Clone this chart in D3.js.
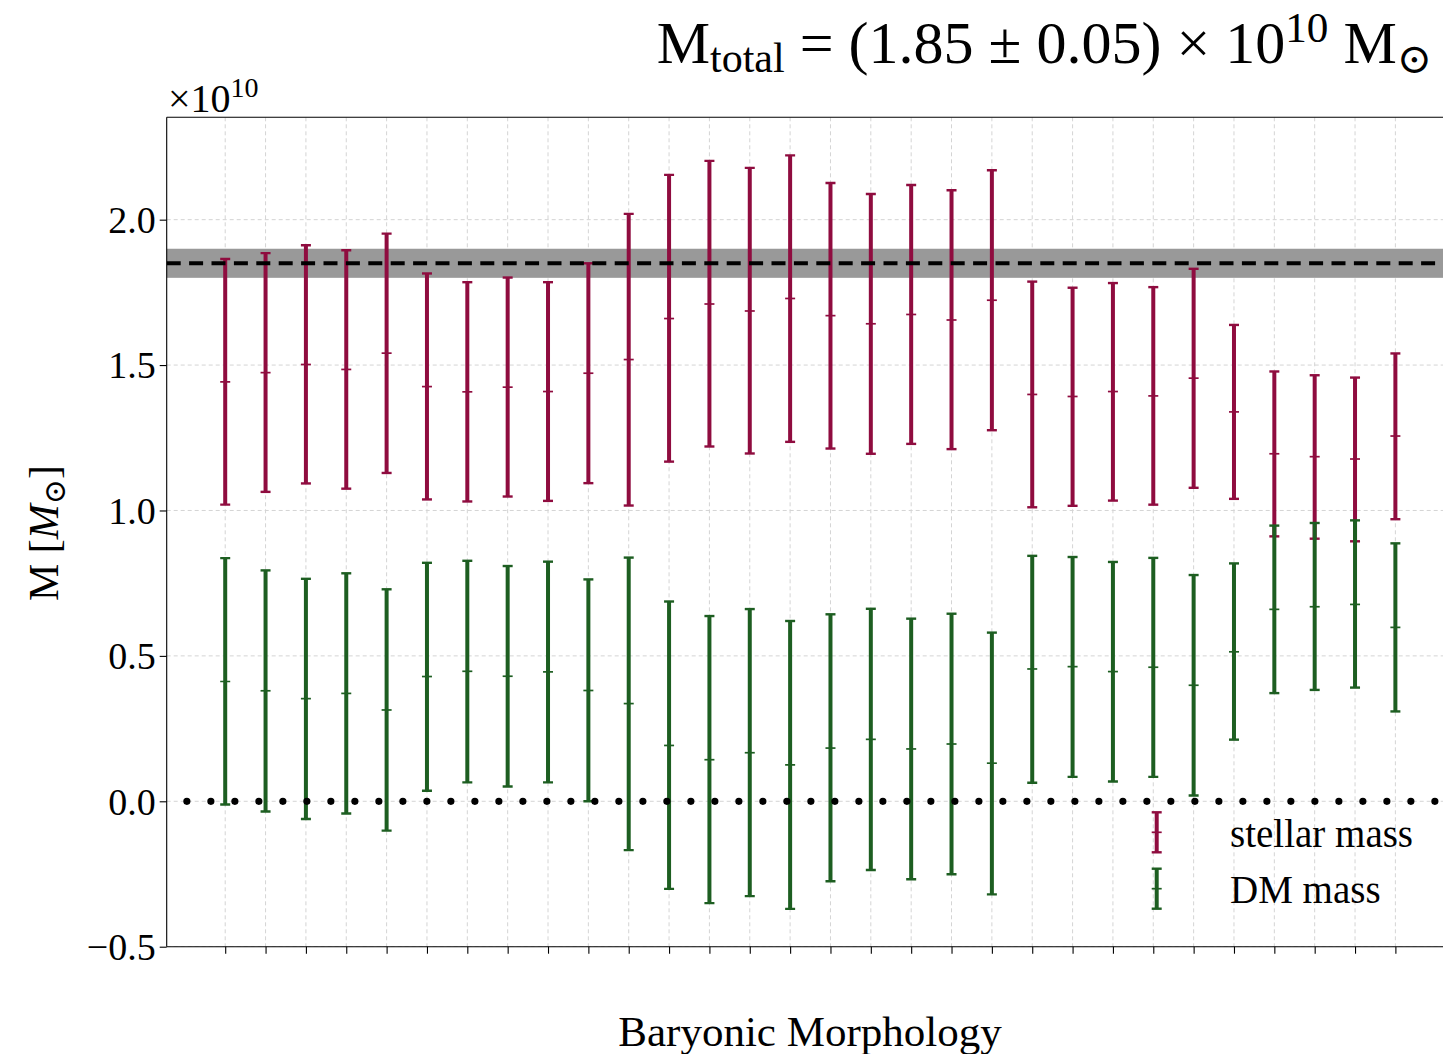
<!DOCTYPE html>
<html>
<head>
<meta charset="utf-8">
<script src="https://cdn.jsdelivr.net/npm/d3@7"></script>
<style>
  html, body { margin: 0; padding: 0; background: #fff; }
  svg { display: block; }
  text { font-family: "Liberation Serif", "DejaVu Serif", serif; fill: #000; }
</style>
</head>
<body>
<svg id="chart" width="1443" height="1054"></svg>
<script>
// ---- data (values in units of 1e10 Msun) ----
const categories = d3.range(30); // 30 baryonic morphologies

const stellarMid  = [1.442,1.474,1.502,1.485,1.541,1.426,1.408,1.424,1.409,1.472,
                     1.519,1.660,1.710,1.686,1.729,1.670,1.642,1.674,1.655,1.723,
                     1.399,1.392,1.409,1.394,1.455,1.339,1.195,1.185,1.177,1.256];
const stellarLow  = [1.020,1.064,1.093,1.075,1.129,1.038,1.031,1.048,1.033,1.094,
                     1.017,1.168,1.220,1.196,1.236,1.213,1.195,1.229,1.211,1.276,
                     1.011,1.016,1.034,1.020,1.078,1.040,0.911,0.903,0.894,0.970];
const stellarHigh = [1.865,1.885,1.912,1.895,1.952,1.815,1.785,1.801,1.785,1.850,
                     2.020,2.154,2.202,2.178,2.221,2.126,2.088,2.119,2.101,2.170,
                     1.787,1.766,1.782,1.768,1.831,1.638,1.478,1.465,1.457,1.540];

const dmMid  = [0.412,0.380,0.353,0.371,0.314,0.429,0.447,0.430,0.445,0.381,
                0.336,0.192,0.143,0.167,0.125,0.183,0.213,0.180,0.197,0.131,
                0.455,0.463,0.446,0.461,0.399,0.514,0.660,0.669,0.677,0.598];
const dmLow  = [-0.011,-0.035,-0.061,-0.042,-0.101,0.036,0.065,0.051,0.065,0.000,
                -0.168,-0.301,-0.350,-0.326,-0.370,-0.275,-0.236,-0.268,-0.251,-0.320,
                0.064,0.084,0.068,0.084,0.020,0.212,0.372,0.383,0.391,0.309];
const dmHigh = [0.836,0.794,0.765,0.784,0.729,0.820,0.827,0.809,0.824,0.763,
                0.838,0.687,0.637,0.661,0.620,0.643,0.662,0.628,0.645,0.580,
                0.844,0.840,0.823,0.837,0.778,0.818,0.948,0.957,0.966,0.887];

const totalMass = 1.85;
const totalErr = 0.05;
const yTicks = [-0.5, 0.0, 0.5, 1.0, 1.5, 2.0];
const seriesNames = ["stellar mass", "DM mass"];
const seriesColors = ["#8f0c3f", "#1d5e21"];

// ---- layout ----
const svg = d3.select("#chart");
const L = 166.7, R = 1443, T = 117.3, B = 946.7;

const x = d3.scaleLinear().domain([-1.45, 30.18]).range([L, R]);
const y = d3.scaleLinear().domain([-0.5, 2.352]).range([B, T]);

const defs = svg.append("defs");
defs.append("clipPath").attr("id", "plotclip")
  .append("rect").attr("x", L).attr("y", T).attr("width", R - L + 20).attr("height", B - T);

const plot = svg.append("g").attr("clip-path", "url(#plotclip)");

// grid
plot.append("g").selectAll("line.vg").data(categories).join("line")
  .attr("x1", d => x(d)).attr("x2", d => x(d)).attr("y1", T).attr("y2", B)
  .attr("stroke", "#d4d4d4").attr("stroke-width", 1).attr("stroke-dasharray", "4,3");
plot.append("g").selectAll("line.hg").data(yTicks).join("line")
  .attr("x1", L).attr("x2", R + 20).attr("y1", d => y(d)).attr("y2", d => y(d))
  .attr("stroke", "#d4d4d4").attr("stroke-width", 1).attr("stroke-dasharray", "4,3");

// band of total mass
plot.append("rect")
  .attr("x", L).attr("width", R - L + 20)
  .attr("y", y(totalMass + totalErr)).attr("height", y(totalMass - totalErr) - y(totalMass + totalErr))
  .attr("fill", "#999999");

// error bars
function drawSeries(mid, lo, hi, color) {
  const g = plot.append("g");
  const rows = categories.map(i => ({ i, m: mid[i], l: lo[i], h: hi[i] }));
  g.selectAll("line.bar").data(rows).join("line")
    .attr("x1", d => x(d.i)).attr("x2", d => x(d.i))
    .attr("y1", d => y(d.l)).attr("y2", d => y(d.h))
    .attr("stroke", color).attr("stroke-width", 4);
  ["l", "h"].forEach(k => {
    g.selectAll("line.cap" + k).data(rows).join("line")
      .attr("x1", d => x(d.i) - 5).attr("x2", d => x(d.i) + 5)
      .attr("y1", d => y(d[k])).attr("y2", d => y(d[k]))
      .attr("stroke", color).attr("stroke-width", 2.4);
  });
  g.selectAll("line.mid").data(rows).join("line")
    .attr("x1", d => x(d.i) - 5).attr("x2", d => x(d.i) + 5)
    .attr("y1", d => y(d.m)).attr("y2", d => y(d.m))
    .attr("stroke", color).attr("stroke-width", 1.7);
}
drawSeries(stellarMid, stellarLow, stellarHigh, seriesColors[0]);
drawSeries(dmMid, dmLow, dmHigh, seriesColors[1]);

// dashed line at total mass
plot.append("line")
  .attr("x1", L).attr("x2", R + 20).attr("y1", y(totalMass)).attr("y2", y(totalMass))
  .attr("stroke", "#000").attr("stroke-width", 4).attr("stroke-dasharray", "14,8.4");

// dotted zero line
plot.append("line")
  .attr("x1", x(-0.95)).attr("x2", R + 20).attr("y1", y(0)).attr("y2", y(0))
  .attr("stroke", "#000").attr("stroke-width", 7.2).attr("stroke-linecap", "round")
  .attr("stroke-dasharray", "0,24");

// spines
svg.append("line").attr("x1", L).attr("x2", L).attr("y1", T).attr("y2", B).attr("stroke", "#000").attr("stroke-width", 1.1);
svg.append("line").attr("x1", L).attr("x2", R).attr("y1", T).attr("y2", T).attr("stroke", "#000").attr("stroke-width", 1.1);
svg.append("line").attr("x1", L).attr("x2", R).attr("y1", B).attr("y2", B).attr("stroke", "#000").attr("stroke-width", 1.1);

// axes
const yAxis = d3.axisLeft(y).tickValues(yTicks).tickFormat(d3.format(".1f")).tickSize(7).tickPadding(4);
const gy = svg.append("g").attr("transform", `translate(${L},0)`).call(yAxis);
gy.select(".domain").remove();
gy.selectAll(".tick line").attr("stroke", "#000").attr("stroke-width", 1.1);
gy.selectAll(".tick text").attr("font-family", "Liberation Serif").attr("font-size", 38).attr("fill", "#000").attr("dy", "0.34em");

const xAxis = d3.axisBottom(x).tickValues(categories).tickFormat("").tickSize(7);
const gx = svg.append("g").attr("transform", `translate(0,${B})`).call(xAxis);
gx.select(".domain").remove();
gx.selectAll(".tick line").attr("stroke", "#000").attr("stroke-width", 1.1);

// offset text x10^10
const off = svg.append("text").attr("x", 168).attr("y", 112).attr("font-size", 40);
off.append("tspan").text("×10");
off.append("tspan").attr("dy", -15).attr("font-size", 28).text("10");

// axis labels
svg.append("text").attr("x", 810).attr("y", 1046).attr("text-anchor", "middle").attr("font-size", 43)
  .text("Baryonic Morphology");

const yl = svg.append("text").attr("transform", "translate(58,533) rotate(-90)")
  .attr("text-anchor", "middle").attr("font-size", 42);
yl.append("tspan").text("M [");
yl.append("tspan").attr("font-style", "italic").text("M");
yl.append("tspan").attr("font-size", 30).attr("dy", 7).text("⊙");
yl.append("tspan").attr("dy", -7).text("]");

// title
const title = svg.append("text").attr("x", 1432).attr("y", 63).attr("text-anchor", "end").attr("font-size", 52);
title.append("tspan").text("M");
title.append("tspan").attr("font-size", "0.7em").attr("dy", 9).text("total");
title.append("tspan").attr("dy", -9).text(" = (1.85 ± 0.05) × 10");
title.append("tspan").attr("font-size", "0.72em").attr("dy", -21).text("10");
title.append("tspan").attr("dy", 21).text(" M");
title.append("tspan").attr("font-size", "0.7em").attr("dy", 10).text("⊙");
const tw = title.node().getComputedTextLength();
if (tw > 0) {
  const fs = Math.max(44, Math.min(60, 52 * 784 / tw));
  title.attr("font-size", fs);
}

// legend
const leg = svg.append("g");
const legRows = [
  { name: seriesNames[0], color: seriesColors[0], top: 812.3, bot: 852.3, ty: 847 },
  { name: seriesNames[1], color: seriesColors[1], top: 868.7, bot: 908.7, ty: 903 }
];
legRows.forEach(r => {
  const lx = 1156.7;
  leg.append("line").attr("x1", lx).attr("x2", lx).attr("y1", r.top).attr("y2", r.bot)
    .attr("stroke", r.color).attr("stroke-width", 4);
  [r.top, r.bot].forEach(v => leg.append("line").attr("x1", lx - 5).attr("x2", lx + 5).attr("y1", v).attr("y2", v)
    .attr("stroke", r.color).attr("stroke-width", 2.4));
  const m = (r.top + r.bot) / 2;
  leg.append("line").attr("x1", lx - 5).attr("x2", lx + 5).attr("y1", m).attr("y2", m)
    .attr("stroke", r.color).attr("stroke-width", 1.7);
  leg.append("text").attr("x", 1230).attr("y", r.ty).attr("font-size", 39).text(r.name);
});
</script>
</body>
</html>
